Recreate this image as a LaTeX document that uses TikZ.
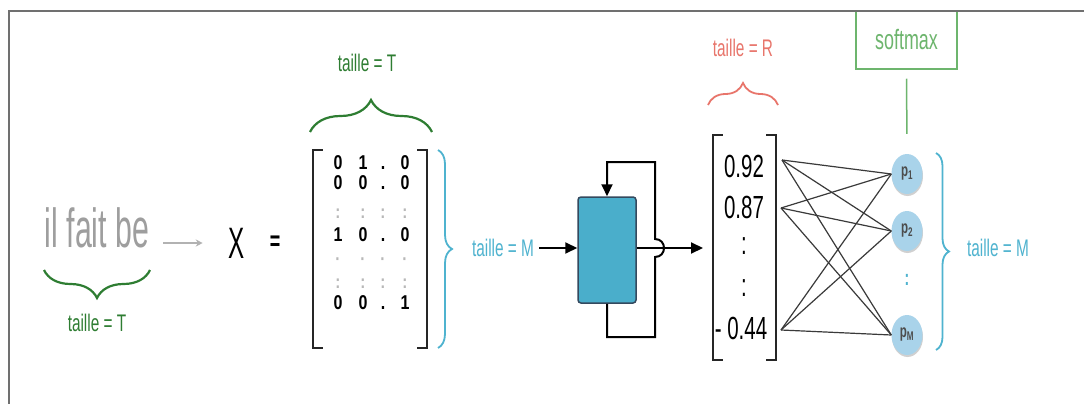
\documentclass[tikz,border=0pt]{standalone}
\usepackage{fontspec}
\setmainfont{Liberation Sans}[FakeStretch=0.64]
\newfontfamily\phrasefont{Liberation Sans}[FakeStretch=0.55]
\newfontfamily\matfont{Liberation Sans}[FakeStretch=0.8]
\usetikzlibrary{arrows.meta,decorations.pathreplacing,shapes.geometric,shadows}
\definecolor{dgreen}{HTML}{2E7D32}
\definecolor{lgreen}{HTML}{6DB56D}
\definecolor{cyanl}{HTML}{4FB3CF}
\definecolor{redl}{HTML}{E8756B}
\definecolor{boxblue}{HTML}{4AAECB}
\definecolor{boxedge}{HTML}{34495E}
\definecolor{pblue}{HTML}{A9D3EA}
\definecolor{framegray}{HTML}{707070}
\definecolor{phrasegray}{HTML}{9E9E9E}
\definecolor{dotgray}{HTML}{B8B8B8}
\definecolor{netgray}{HTML}{3A3A3A}
\tikzset{
  lbl/.style={inner sep=0pt, font=\fontsize{24}{26}\selectfont},
  bracegreen/.style={draw=dgreen, line width=2.2pt, decorate, decoration={brace, amplitude=#1}},
  bracecyan/.style={draw=cyanl, line width=1.8pt, decorate, decoration={brace, amplitude=#1}},
  bracered/.style={draw=redl, line width=1.8pt, decorate, decoration={brace, amplitude=#1}},
  mtx/.style={inner sep=0pt, text height=14pt, text depth=0pt, font=\matfont\bfseries\fontsize{20}{22}\selectfont},
  mtxdot/.style={inner sep=0pt, text=dotgray, font=\matfont\bfseries\fontsize{19}{20}\selectfont},
  vecent/.style={inner sep=0pt, font=\fontsize{32}{34}\selectfont},
  bracketline/.style={draw=black!85, line width=2.4pt},
  mainarrow/.style={draw=black, line width=2pt, -{Triangle[length=12pt,width=11pt]}},
  loopline/.style={draw=black, line width=2pt},
  netline/.style={draw=netgray, line width=1.2pt},
  pnode/.style={ellipse, fill=pblue, minimum width=31pt, minimum height=40pt, inner sep=0pt,
    drop shadow={shadow xshift=0.5pt, shadow yshift=-2pt, fill=black!30, opacity=0.6},
    font=\bfseries\fontsize{18}{18}\selectfont, text=black!70},
}
\begin{document}
\begin{tikzpicture}[x=1pt,y=-1pt]
\useasboundingbox (0,0) rectangle (1084,404);
\fill[white] (0,0) rectangle (1084,404);

% phrase and X
\node[inner sep=0pt, text=phrasegray, font=\phrasefont\fontsize{55}{58}\selectfont] (phrase) at (97,228) {il fait be};
\draw[bracegreen=28pt] (150,270) -- (44,270);
\node[lbl, text=dgreen] (tT1) at (97,323) {taille = T};
\node[inner sep=0pt, font=\phrasefont\fontsize{44}{46}\selectfont] (X) at (237,243) {X};
\node[inner sep=0pt, font=\bfseries\fontsize{28}{30}\selectfont] (eq) at (275,243) {=};
\draw[draw=black!30, line width=1.5pt, -{Stealth[length=7pt,width=7pt]}, shorten <=14pt, shorten >=26pt] (phrase.east |- X) -- (X.west);

% matrix
\node[minimum width=114pt, minimum height=198pt, inner sep=0pt] (mat) at (370,249) {};
\draw[bracketline] ([xshift=10pt]mat.north west) -- (mat.north west) -- (mat.south west) -- ([xshift=10pt]mat.south west);
\draw[bracketline] ([xshift=-10pt]mat.north east) -- (mat.north east) -- (mat.south east) -- ([xshift=-10pt]mat.south east);
\foreach \y/\a/\b/\c/\d/\n in {162/0/1/./0/1, 182/0/0/./0/2, 234/1/0/./0/4, 302/0/0/./1/7}{
  \node[mtx] (m\n a) at (338,\y) {\a};
  \node[mtx] (m\n b) at (363,\y) {\b};
  \node[mtx] (m\n c) at (383,\y) {\c};
  \node[mtx] (m\n d) at (405,\y) {\d};
}
\foreach \y/\s/\n in {214/:/3, 262/·/5, 284/:/6}{
  \node[mtxdot] (m\n a) at (338,\y) {\s};
  \node[mtxdot] (m\n b) at (363,\y) {\s};
  \node[mtxdot] (m\n c) at (383,\y) {\s};
  \node[mtxdot] (m\n d) at (405,\y) {\s};
}
\draw[bracegreen=32pt] (310,132) -- (432,132);
\node[lbl, text=dgreen] (tT2) at (367,63) {taille = T};
\draw[bracecyan=14pt] (438,150) -- (438,348);
\node[lbl, text=cyanl] (tM1) at (503,248) {taille = M};

% RNN cell
\node[draw=boxedge, fill=boxblue, line width=1.5pt, rounded corners=3pt, minimum width=58pt, minimum height=106pt] (rnn) at (607,250) {};
\coordinate (vin) at (703,248);
\coordinate (lb) at (655,337);
\coordinate (lt) at (655,162);
\draw[mainarrow, shorten <=5pt] (tM1.east) -- (rnn.west |- tM1);
\draw[mainarrow] (rnn.east |- vin) -- (vin);
\draw[loopline, -{Triangle[length=12pt,width=11pt]}] (rnn.south) |- (lb) -- (655,257) .. controls (667,257) and (667,239) .. (655,239) -- (lt) -| (rnn.north);

% vector
\node[minimum width=63pt, minimum height=225pt, inner sep=0pt] (vec) at (744.5,247.5) {};
\draw[bracketline] ([xshift=10pt]vec.north west) -- (vec.north west) -- (vec.south west) -- ([xshift=10pt]vec.south west);
\draw[bracketline] ([xshift=-10pt]vec.north east) -- (vec.north east) -- (vec.south east) -- ([xshift=-10pt]vec.south east);
\node[vecent] (v1) at (744,166) {0.92};
\node[vecent] (v2) at (744,207) {0.87};
\node[vecent] (v3) at (744,246) {:};
\node[vecent] (v4) at (744,288) {:};
\node[vecent] (v5) at (741,328) {- 0.44};
\draw[bracered=22pt] (708,105) -- (778,105);
\node[lbl, text=redl] (tR) at (743,48) {taille = R};

% output nodes
\node[pnode] (p1) at (907,174) {p\textsubscript{1}};
\node[pnode] (p2) at (907,231) {p\textsubscript{2}};
\node[inner sep=0pt, text=cyanl, font=\bfseries\fontsize{22}{22}\selectfont] (pd) at (907,280) {:};
\node[pnode] (pM) at (907,335) {p\textsubscript{M}};
\coordinate (a1) at (782,160);
\coordinate (a2) at (781,208);
\coordinate (a3) at (781,330);
\foreach \a in {a1,a2,a3}{
  \foreach \p in {p1,p2,pM}{
    \draw[netline] (\a) -- (\p.west);
  }
}
\draw[bracecyan=13pt] (936,153) -- (936,350);
\node[lbl, text=cyanl] (tM2) at (998,248) {taille = M};

% softmax
\node[draw=lgreen, line width=1.5pt, minimum width=101pt, minimum height=58pt, inner sep=0pt, text=lgreen, font=\fontsize{28}{29}\selectfont] (sm) at (906.5,40) {softmax};
\draw[draw=lgreen, line width=1.5pt, shorten <=9pt, shorten >=20pt] (sm.south) -- (p1.north);

% frame
\draw[draw=framegray, line width=1.6pt] (9,404) -- (9,11) -- (1084,11);
\end{tikzpicture}
\end{document}
